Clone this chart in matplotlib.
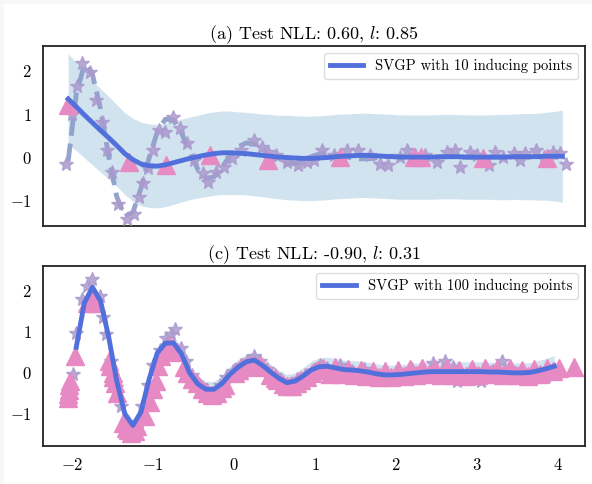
import matplotlib
matplotlib.use("Agg")
import matplotlib.pyplot as plt
import numpy as np
from matplotlib.patches import Rectangle

plt.rcParams.update({
    "font.family": "serif",
    "font.serif": ["cmr10"],
    "mathtext.fontset": "cm",
    "axes.formatter.use_mathtext": True,
    "font.size": 11,
})

# prediction grid (shared by both panels)
x_grid = [-2.05, -1.95, -1.85, -1.75, -1.65, -1.55, -1.45, -1.35, -1.25, -1.15,
          -1.05, -0.95, -0.85, -0.75, -0.65, -0.55, -0.45, -0.35, -0.25, -0.15,
          -0.05, 0.05, 0.15, 0.25, 0.35, 0.45, 0.55, 0.65, 0.75, 0.85,
          0.95, 1.05, 1.15, 1.25, 1.35, 1.45, 1.55, 1.65, 1.75, 1.85,
          1.95, 2.05, 2.15, 2.25, 2.35, 2.45, 2.55, 2.65, 2.75, 2.85,
          2.95, 3.05, 3.15, 3.25, 3.35, 3.45, 3.55, 3.65, 3.75, 3.85,
          3.95, 4.05]

# (a) true function (dashed), SVGP-10 mean and 2-sigma half width
f_true = [-0.10, 1.45, 2.15, 1.92, 1.12, 0.02, -0.92, -1.38, -1.28, -0.72,
          -0.02, 0.58, 0.88, 0.86, 0.56, 0.12, -0.28, -0.50, -0.46, -0.24,
          0.04, 0.24, 0.33, 0.30, 0.18, 0.03, -0.10, -0.16, -0.15, -0.08,
          0.01, 0.07, 0.09, 0.07, 0.02, -0.02, -0.04, -0.04, -0.02, 0.01,
          0.02, 0.02, 0.01, 0.00, -0.01, -0.01, 0.00, 0.01, 0.01, 0.00,
          0.00, -0.01, 0.00, 0.00, 0.00, 0.00, 0.00, 0.00, 0.00, 0.00,
          0.00, 0.00]
mean_a = [1.35, 1.17, 0.98, 0.80, 0.62, 0.45, 0.27, 0.08, -0.06, -0.16,
          -0.20, -0.21, -0.18, -0.13, -0.08, -0.03, 0.01, 0.05, 0.08, 0.10,
          0.10, 0.09, 0.08, 0.06, 0.04, 0.02, 0.00, -0.01, -0.02, -0.03,
          -0.03, -0.02, -0.01, 0.01, 0.02, 0.03, 0.04, 0.04, 0.03, 0.02,
          0.01, 0.00, 0.00, 0.00, 0.00, 0.00, 0.01, 0.01, 0.01, 0.00,
          0.00, 0.00, 0.00, 0.00, 0.00, 0.01, 0.01, 0.01, 0.01, 0.02,
          0.02, 0.02]
ci_a = [1.05, 1.02, 1.00, 0.98, 0.97, 0.96, 0.95, 0.95, 0.96, 0.97,
        0.97, 0.97, 0.97, 0.97, 0.96, 0.96, 0.96, 0.97, 0.97, 0.97,
        0.97, 0.96, 0.96, 0.96, 0.96, 0.97, 0.97, 0.98, 0.98, 0.98,
        0.98, 0.98, 0.98, 0.98, 0.98, 0.98, 0.98, 0.98, 0.98, 0.98,
        0.98, 0.98, 0.98, 0.98, 0.98, 0.98, 0.98, 0.98, 0.98, 0.98,
        0.98, 0.98, 0.98, 0.99, 0.99, 0.99, 1.00, 1.00, 1.01, 1.02,
        1.04, 1.07]

# (c) SVGP-100 mean and half width on grid points -1.95 .. 3.95
mean_c = [0.62, 1.70, 2.08, 1.75, 0.88, -0.20, -1.00, -1.28, -0.95,
          -0.15, 0.48, 0.72, 0.73, 0.46, 0.00, -0.27, -0.40, -0.40, -0.26,
          -0.03, 0.14, 0.27, 0.31, 0.18, 0.02, -0.13, -0.24, -0.20, -0.08,
          0.07, 0.15, 0.16, 0.12, 0.08, 0.07, 0.05, 0.02, -0.02, -0.05,
          -0.05, -0.04, -0.02, 0.00, 0.02, 0.03, 0.03, 0.03, 0.03, 0.03,
          0.03, 0.03, 0.02, 0.02, 0.01, 0.00, 0.00, 0.01, 0.05, 0.10,
          0.16]
ci_c = [0.14, 0.13, 0.12, 0.12, 0.12, 0.12, 0.12, 0.12, 0.12,
        0.13, 0.14, 0.15, 0.16, 0.17, 0.17, 0.18, 0.19, 0.19, 0.19,
        0.19, 0.19, 0.19, 0.19, 0.19, 0.19, 0.20, 0.20, 0.20, 0.21,
        0.21, 0.22, 0.22, 0.23, 0.23, 0.23, 0.24, 0.24, 0.24, 0.24,
        0.24, 0.24, 0.24, 0.24, 0.24, 0.24, 0.24, 0.24, 0.24, 0.24,
        0.24, 0.24, 0.24, 0.24, 0.24, 0.24, 0.24, 0.24, 0.25, 0.25,
        0.26]

# training observations (stars)
x_obs_a = [-2.07, -2.00, -1.94, -1.88, -1.78, -1.70, -1.63, -1.57, -1.51, -1.43,
           -1.32, -1.24, -1.18, -1.12, -1.06, -1.00, -0.93, -0.85, -0.75, -0.67,
           -0.58, -0.50, -0.38, -0.32, -0.23, -0.13, -0.03, 0.09, 0.24, 0.34,
           0.42, 0.51, 0.65, 0.79, 0.90, 0.98, 1.08, 1.23, 1.39, 1.53,
           1.68, 1.80, 1.90, 2.05, 2.13, 2.23, 2.36, 2.50, 2.63, 2.73,
           2.79, 2.91, 3.00, 3.14, 3.22, 3.32, 3.45, 3.53, 3.59, 3.72,
           3.82, 3.94, 4.02, 4.09]
y_obs_a = [-0.15, 1.01, 1.64, 2.18, 1.98, 1.33, 0.82, 0.16, -0.34, -1.08,
           -1.43, -1.31, -0.92, -0.61, -0.26, 0.16, 0.63, 0.59, 0.92, 0.67,
           0.32, -0.07, -0.38, -0.57, -0.34, -0.23, -0.03, 0.16, 0.40, 0.24,
           0.12, 0.05, -0.11, -0.19, -0.11, -0.07, 0.16, 0.05, 0.16, 0.16,
           0.05, -0.15, -0.19, 0.01, 0.16, 0.05, 0.05, -0.11, 0.12, 0.16,
           -0.23, 0.12, 0.05, -0.19, 0.12, 0.01, 0.09, -0.07, 0.09, 0.16,
           0.01, 0.12, 0.09, -0.15]
x_obs_c = [-1.99, -1.95, -1.88, -1.82, -1.75, -1.66, -1.62, -1.58, -1.52, -1.46,
           -1.40, -1.30, -1.26, -1.18, -1.14, -1.06, -1.00, -0.92, -0.84, -0.78,
           -0.73, -0.66, -0.60, -0.52, -0.42, -0.34, -0.26, -0.18, -0.10, -0.02,
           0.08, 0.16, 0.24, 0.32, 0.40, 0.50, 0.58, 0.68, 0.78, 0.88,
           0.98, 1.06, 1.15, 1.30, 1.45, 1.60, 1.75, 1.90, 2.05, 2.20,
           2.35, 2.45, 2.60, 2.70, 2.75, 2.90, 3.05, 3.20, 3.30, 3.42,
           3.55, 3.70, 3.85, 3.95]
y_obs_c = [-0.03, 0.98, 1.80, 2.12, 2.28, 1.88, 1.35, 0.94, 0.30, -0.35,
           -0.80, -1.30, -1.54, -1.20, -0.80, -0.30, 0.20, 0.55, 0.85, 0.95,
           1.07, 0.60, 0.30, -0.05, -0.30, -0.42, -0.55, -0.30, -0.10, 0.05,
           0.20, 0.30, 0.42, 0.30, 0.10, -0.05, -0.20, -0.30, -0.15, -0.05,
           0.05, 0.20, 0.12, 0.18, 0.05, 0.10, -0.05, -0.08, -0.02, 0.10,
           0.00, 0.25, 0.28, 0.15, -0.21, 0.00, -0.21, 0.05, 0.28, 0.10,
           0.00, -0.05, -0.08, 0.10]

# inducing points (triangles)
z_a = [-2.05, -1.30, -0.84, -0.30, 0.42, 1.31, 2.22, 2.30, 3.07, 3.86]
u_a = [1.21, -0.11, -0.19, 0.05, -0.07, 0.01, 0.01, 0.01, -0.03, -0.03]
z_c = [-2.05, -2.05, -2.04, -2.04, -2.03, -1.97, -1.82, -1.78, -1.74, -1.70,
       -1.54, -1.53, -1.50, -1.49, -1.47, -1.45, -1.37, -1.34, -1.31, -1.27,
       -1.23, -1.20, -1.10, -1.04, -1.00, -0.96, -0.94, -0.90, -0.86, -0.81,
       -0.75, -0.70, -0.62, -0.58, -0.52, -0.46, -0.40, -0.34, -0.27, -0.21,
       -0.15, -0.11, 0.01, 0.06, 0.11, 0.18, 0.24, 0.30, 0.34, 0.44,
       0.50, 0.53, 0.60, 0.65, 0.71, 0.77, 0.83, 0.90, 0.96, 1.02,
       1.10, 1.18, 1.25, 1.33, 1.40, 1.48, 1.56, 1.63, 1.71, 1.79,
       1.86, 1.94, 2.02, 2.09, 2.17, 2.25, 2.32, 2.40, 2.48, 2.55,
       2.63, 2.71, 2.78, 2.86, 2.94, 3.01, 3.09, 3.17, 3.24, 3.32,
       3.40, 3.47, 3.55, 3.63, 3.70, 3.78, 3.86, 3.93, 4.01, 4.19]
u_c = [-0.62, -0.52, -0.42, -0.30, -0.20, 0.41, 1.71, 1.85, 1.90, 1.71,
       0.30, 0.17, 0.00, -0.10, -0.24, -0.48, -1.21, -1.33, -1.40, -1.46,
       -1.42, -1.30, -1.05, -0.72, -0.40, -0.20, 0.17, 0.40, 0.55, 0.66,
       0.60, 0.50, 0.15, -0.01, -0.15, -0.25, -0.40, -0.50, -0.53, -0.50,
       -0.38, -0.29, -0.01, 0.07, 0.15, 0.20, 0.20, 0.18, 0.15, -0.05,
       -0.12, -0.17, -0.27, -0.33, -0.32, -0.25, -0.18, -0.09, 0.00, 0.07,
       0.12, -0.04, 0.14, -0.02, 0.10, -0.06, 0.08, -0.08, 0.05, -0.10,
       0.04, -0.09, 0.06, -0.07, 0.10, -0.05, 0.12, -0.04, 0.10, -0.06,
       0.12, -0.05, 0.08, -0.07, 0.10, -0.05, 0.12, -0.04, 0.10, -0.06,
       0.12, -0.05, 0.08, -0.07, 0.10, -0.03, 0.12, 0.05, 0.12, 0.15]

FILL_C = "#1f77b4"
TRUE_C = "#8da0cb"
STAR_C = "#ab9acd"
TRI_C = "#e78ac3"
MEAN_C = "#5270db"

fig = plt.figure(figsize=(5.92, 4.84), dpi=100, facecolor="#f7f7f7")
fig.patches.append(Rectangle((4 / 592, 0), 1, 1 - 4 / 484, transform=fig.transFigure,
                             facecolor="white", edgecolor="none", zorder=-10))
ax1 = fig.add_axes([43 / 592, 1 - 226 / 484, 542 / 592, 180 / 484])
ax2 = fig.add_axes([43 / 592, 1 - 446 / 484, 542 / 592, 180 / 484], sharex=ax1)

xg = np.array(x_grid)

# --- (a) 10 inducing points ------------------------------------------------ #
m = np.array(mean_a)
c = np.array(ci_a)
ax1.fill_between(xg, m - c, m + c, color=FILL_C, alpha=0.2, lw=0, zorder=1)
ax1.plot(xg, f_true, ls="--", color=TRUE_C, lw=3.5, alpha=0.95, zorder=2)
ax1.plot(x_obs_a, y_obs_a, ls="none", marker="*", ms=10, color=STAR_C,
         alpha=0.85, zorder=3)
ax1.plot(z_a, u_a, ls="none", marker="^", ms=13, color=TRI_C, zorder=4)
ax1.plot(xg, m, color=MEAN_C, lw=3.5, zorder=5, label="SVGP with 10 inducing points")
ax1.set_title("(a) Test NLL: 0.60, $l$: 0.85", fontsize=13, pad=5)
ax1.set_ylim(-1.6, 2.58)

# --- (c) 100 inducing points ----------------------------------------------- #
xc = xg[1:-1]
m = np.array(mean_c)
c = np.array(ci_c)
ax2.fill_between(xc, m - c, m + c, color=FILL_C, alpha=0.2, lw=0, zorder=1)
ax2.plot(x_obs_c, y_obs_c, ls="none", marker="*", ms=10, color=STAR_C,
         alpha=0.85, zorder=3)
ax2.plot(z_c, u_c, ls="none", marker="^", ms=13, color=TRI_C, zorder=4)
ax2.plot(xc, m, color=MEAN_C, lw=3.5, zorder=5, label="SVGP with 100 inducing points")
ax2.set_title("(c) Test NLL: -0.90, $l$: 0.31", fontsize=13, pad=5)
ax2.set_ylim(-1.78, 2.6)

for ax in (ax1, ax2):
    ax.set_xlim(-2.36, 4.33)
    ax.set_yticks([-1, 0, 1, 2])
    ax.tick_params(length=0, labelsize=12, pad=8)
    for s in ax.spines.values():
        s.set_color("#222222")
        s.set_linewidth(1.3)
    ax.legend(loc="upper right", fontsize=10.5, handlelength=2.3,
              framealpha=1, edgecolor="#dddddd", borderaxespad=0.5)
ax2.set_xticks([-2, -1, 0, 1, 2, 3, 4])
ax1.tick_params(labelbottom=False)

fig.savefig("out.png", dpi=100, facecolor=fig.get_facecolor())
